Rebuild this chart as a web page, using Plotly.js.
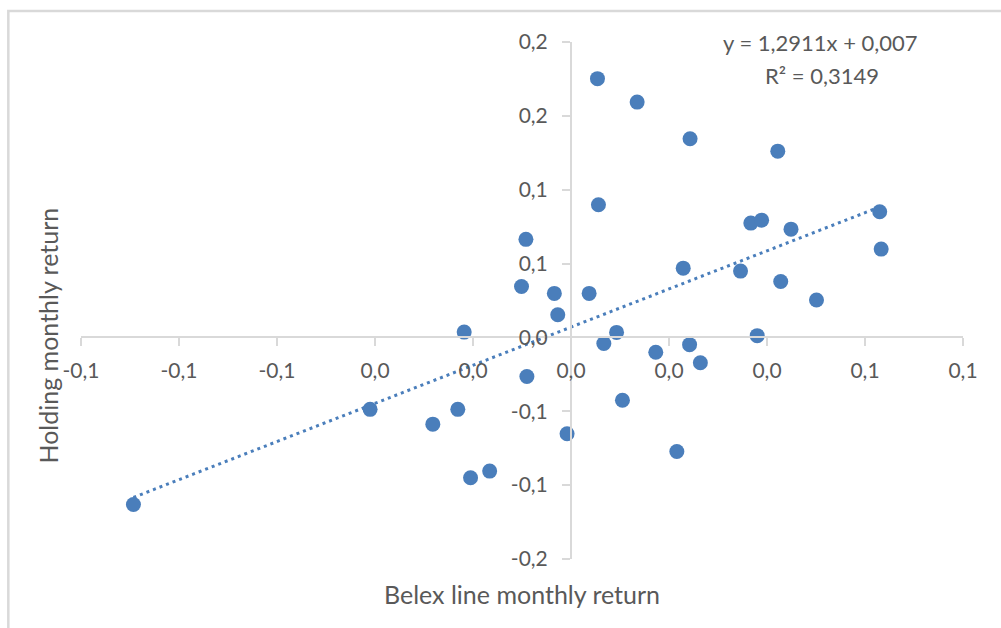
<!DOCTYPE html>
<html>
<head>
<meta charset="utf-8">
<script src="https://cdn.plot.ly/plotly-3.0.1.min.js"></script>
<style>html,body{margin:0;padding:0;background:#fff;}#chart{width:1001px;height:628px;}</style>
</head>
<body>
<div id="chart"></div>
<script>
// Belex line monthly return (x) and holding monthly return (y)
const belexReturn = [0.0054, 0.0135, 0.0243, 0.0422, 0.0056, -0.0092, 0.0367, 0.0389, 0.0449, 0.0630, 0.0633, 0.0229, 0.0346, 0.0428, 0.0501, -0.0101, -0.0034, 0.0037, -0.0027, -0.0218, -0.0410, -0.0282, -0.0231, -0.0205, -0.0166, -0.0893, -0.0090, 0.0093, 0.0067, 0.0173, 0.0242, 0.0264, 0.0380, 0.0105, -0.0008, 0.0216];
const holdingReturn = [0.1752, 0.1593, 0.1345, 0.1261, 0.0898, 0.0664, 0.0774, 0.0794, 0.0733, 0.0851, 0.0598, 0.0469, 0.0449, 0.0379, 0.0253, 0.0345, 0.0298, 0.0298, 0.0154, 0.0036, -0.0487, -0.0587, -0.0487, -0.0950, -0.0905, -0.1131, -0.0264, 0.0034, -0.0041, -0.0100, -0.0049, -0.0171, 0.0012, -0.0425, -0.0652, -0.0772];
const trendSlope = 1.2911;
const trendIntercept = 0.007;
const equationText = "y = 1,2911x + 0,007";
const rSquaredText = "R² = 0,3149";
const xTickVals = [-0.10, -0.08, -0.06, -0.04, -0.02, 0, 0.02, 0.04, 0.06, 0.08];
const xTickText = ["-0,1", "-0,1", "-0,1", "0,0", "0,0", "0,0", "0,0", "0,0", "0,1", "0,1"];
const yTickVals = [0.20, 0.15, 0.10, 0.05, 0, -0.05, -0.10, -0.15];
const yTickText = ["0,2", "0,2", "0,1", "0,1", "0,0", "-0,1", "-0,1", "-0,2"];
const xTitle = "Belex line monthly return";
const yTitle = "Holding monthly return";

const blue = "#4a7ebb";
const gray = "#d9d9d9";
const textGray = "#595959";
const fontFam = "Lato, 'Open Sans', sans-serif";

const xMin = Math.min(...belexReturn), xMax = Math.max(...belexReturn);

const scatter = {
  x: belexReturn, y: holdingReturn, type: "scatter", mode: "markers",
  marker: {color: blue, size: 15, line: {width: 0}},
  cliponaxis: false, hoverinfo: "x+y", showlegend: false
};
const trend = {
  x: [xMin, xMax],
  y: [trendSlope * xMin + trendIntercept, trendSlope * xMax + trendIntercept],
  type: "scatter", mode: "lines",
  line: {color: blue, width: 3, dash: "3px,4px"},
  hoverinfo: "skip", showlegend: false
};

const xr = [-0.10, 0.08], yr = [-0.15, 0.20];

const layout = {
  width: 1001, height: 628,
  margin: {l: 81, r: 38, t: 42, b: 69, pad: 0},
  paper_bgcolor: "#fff", plot_bgcolor: "#fff",
  font: {family: fontFam, color: textGray, size: 21},
  showlegend: false,
  xaxis: {
    range: xr, autorange: false, anchor: "free",
    position: (0 - yr[0]) / (yr[1] - yr[0]),
    showgrid: false, zeroline: false,
    showline: true, linecolor: gray, linewidth: 2,
    ticks: "outside", ticklen: 8, tickcolor: gray, tickwidth: 2,
    tickmode: "array", tickvals: xTickVals, ticktext: xTickText,
    tickfont: {family: fontFam, size: 21, color: textGray},
    ticklabelstandoff: 6
  },
  yaxis: {
    range: yr, autorange: false, anchor: "free",
    position: (0 - xr[0]) / (xr[1] - xr[0]),
    showgrid: false, zeroline: false,
    showline: true, linecolor: gray, linewidth: 2,
    ticks: "outside", ticklen: 8, tickcolor: gray, tickwidth: 2,
    tickmode: "array", tickvals: yTickVals, ticktext: yTickText,
    tickfont: {family: fontFam, size: 21, color: textGray},
    ticklabelstandoff: 10
  },
  shapes: [{
    type: "rect", xref: "paper", yref: "paper",
    x0: -0.0824, x1: 1.3, y0: -0.4, y1: 1.06,
    line: {color: gray, width: 2.5}, fillcolor: "rgba(0,0,0,0)", layer: "below"
  }],
  annotations: [
    {xref: "paper", yref: "paper", x: 0.838, y: 1.0, text: equationText, showarrow: false,
     xanchor: "center", yanchor: "middle", font: {family: fontFam, size: 22, color: textGray}},
    {xref: "paper", yref: "paper", x: 0.84, y: 0.936, text: rSquaredText, showarrow: false,
     xanchor: "center", yanchor: "middle", font: {family: fontFam, size: 22, color: textGray}},
    {xref: "paper", yref: "paper", x: 0.5, y: -0.068, text: xTitle, showarrow: false,
     xanchor: "center", yanchor: "middle", font: {family: fontFam, size: 25, color: textGray}},
    {xref: "paper", yref: "paper", x: -0.037, y: 0.433, text: yTitle, showarrow: false, textangle: -90,
     xanchor: "center", yanchor: "middle", font: {family: fontFam, size: 25, color: textGray}}
  ]
};

Plotly.newPlot("chart", [trend, scatter], layout, {displayModeBar: false, staticPlot: true});
</script>
</body>
</html>
